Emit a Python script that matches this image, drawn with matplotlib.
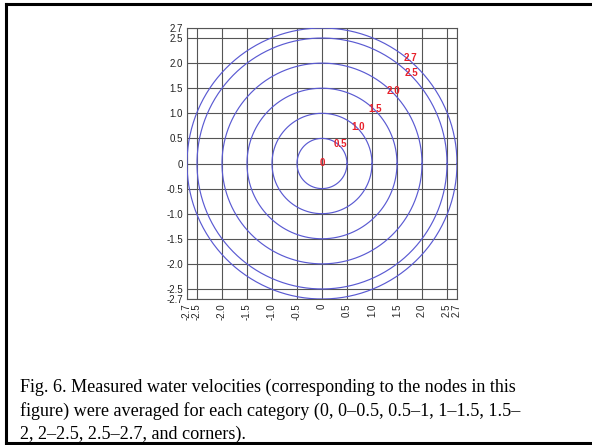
import numpy as np
import matplotlib.pyplot as plt
from matplotlib.lines import Line2D

radii = [0.5, 1.0, 1.5, 2.0, 2.5, 2.7]
ticks = [-2.7, -2.5, -2.0, -1.5, -1.0, -0.5, 0, 0.5, 1.0, 1.5, 2.0, 2.5, 2.7]
tick_labels = ['-2.7', '-2.5', '-2.0', '-1.5', '-1.0', '-0.5', '0',
               '0.5', '1.0', '1.5', '2.0', '2.5', '2.7']
node_labels = ['0', '0.5', '1.0', '1.5', '2.0', '2.5', '2.7']
node_x = [0, 0.36, 0.72, 1.06, 1.42, 1.78, 1.76]
node_y = [0, 0.38, 0.72, 1.08, 1.44, 1.80, 2.10]

caption = ("Fig. 6. Measured water velocities (corresponding to the nodes in this\n"
           "figure) were averaged for each category (0, 0\u20130.5, 0.5\u20131, 1\u20131.5, 1.5\u2013\n"
           "2, 2\u20132.5, 2.5\u20132.7, and corners).")

W, H = 592, 445
fig = plt.figure(figsize=(W / 100, H / 100), dpi=100)

# outer frame: left, top and bottom edges only
x0, y_top, y_bot = 6 / W, 1 - 4 / H, 2 / H
fig.add_artist(Line2D([x0, x0], [y_bot, y_top], transform=fig.transFigure,
                      color='black', linewidth=2.2, solid_capstyle='projecting'))
fig.add_artist(Line2D([x0, 1.05], [y_top, y_top], transform=fig.transFigure,
                      color='black', linewidth=2.2, solid_capstyle='projecting'))
fig.add_artist(Line2D([x0, 1.05], [y_bot, y_bot], transform=fig.transFigure,
                      color='black', linewidth=2.2, solid_capstyle='projecting'))

ax = fig.add_axes([187 / W, 1 - 299 / H, 270 / W, 271 / H])
t = np.linspace(0, 2 * np.pi, 400)
for r in radii:
    ax.plot(r * np.cos(t), r * np.sin(t), color='#5a5ad2', linewidth=0.85, zorder=3)

for lab, x, y in zip(node_labels, node_x, node_y):
    ax.text(x, y, lab, color='#e8202a', fontsize=7, fontweight='bold',
            ha='center', va='center', family='Liberation Sans', zorder=4)

ax.set_xlim(-2.7, 2.7)
ax.set_ylim(-2.7, 2.7)
ax.set_xticks(ticks)
ax.set_yticks(ticks)
ax.set_xticklabels(tick_labels, rotation=90, fontsize=7, family='Liberation Sans')
ax.set_yticklabels(tick_labels, fontsize=7, family='Liberation Sans')
ax.tick_params(length=0, pad=3, colors='#222222')
ax.grid(True, color='#555555', linewidth=0.8, zorder=1)
for s in ax.spines.values():
    s.set_color('#555555')
    s.set_linewidth(0.8)

fig.text(20 / W, 1 - 379 / H, caption, fontsize=13.1, family='Liberation Serif',
         ha='left', va='top', linespacing=1.42)

fig.savefig('out.png', dpi=100)
